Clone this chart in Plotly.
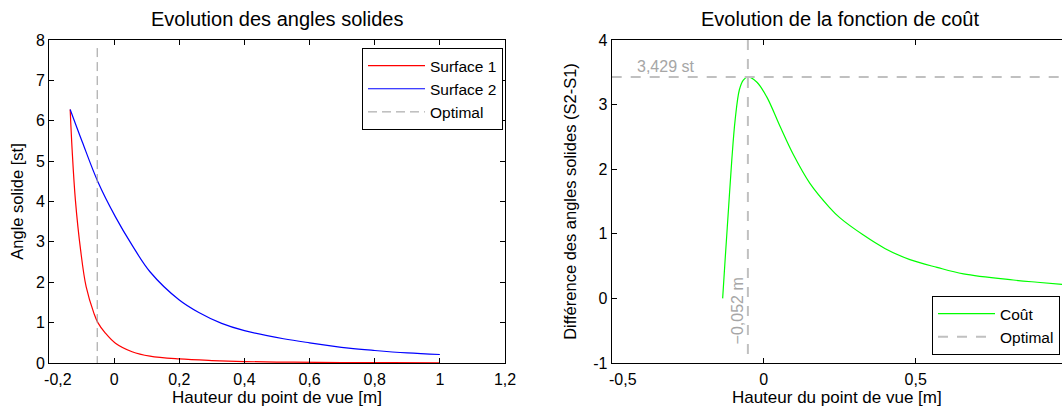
import plotly.graph_objects as go

# ---------------- data ----------------
s1_x = [-0.135, -0.129, -0.119, -0.103, -0.086, -0.062, -0.050, -0.027, 0.004,
        0.055, 0.110, 0.20, 0.30, 0.40, 0.55, 0.70, 0.85, 1.00]
s1_y = [6.28, 5.28, 4.04, 2.80, 1.89, 1.23, 1.00, 0.74, 0.49,
        0.28, 0.17, 0.10, 0.06, 0.035, 0.02, 0.012, 0.008, 0.005]

s2_x = [-0.135, -0.098, -0.050, 0.004, 0.055, 0.110, 0.20, 0.26, 0.33,
        0.40, 0.52, 0.60, 0.72, 0.80, 0.90, 1.00]
s2_y = [6.28, 5.48, 4.49, 3.62, 2.92, 2.26, 1.56, 1.25, 0.98,
        0.80, 0.60, 0.50, 0.37, 0.31, 0.25, 0.21]

cost_x = [-0.135, -0.127, -0.116, -0.105, -0.094, -0.080, -0.067, -0.052, -0.023,
          0.010, 0.054, 0.097, 0.152, 0.216, 0.25, 0.328, 0.40, 0.481, 0.57,
          0.657, 0.821, 0.90, 1.000]
cost_y = [0.00, 0.59, 1.37, 2.14, 2.76, 3.23, 3.38, 3.429, 3.35,
          3.12, 2.66, 2.23, 1.78, 1.41, 1.25, 0.98, 0.77, 0.60, 0.48,
          0.38, 0.285, 0.25, 0.21]

opt_x = -0.052
opt_y = 3.429
opt_left_top = 7.8

NB = "\u00a0"
left_xticks = [-0.2, 0, 0.2, 0.4, 0.6, 0.8, 1.0, 1.2]
left_xticklabels = [NB * 4 + "-0,2", "0", "0,2", "0,4", "0,6", "0,8", "1", "1,2"]
left_yticks = [0, 1, 2, 3, 4, 5, 6, 7, 8]
right_xticks = [-0.5, 0, 0.5, 1.0]
right_xticklabels = [NB * 5 + "-0,5", "0", "0,5", "1"]
right_yticks = [-1, 0, 1, 2, 3, 4]
right_yticklabels = ["-1", "0", "1", "2", "3", "4"]

# ---------------- layout geometry ----------------
W, H = 1062, 408
FONT = "Liberation Sans, Arial, sans-serif"
L_X0, L_X1 = 49, 505
R_X0 = 611.7
Y_TOP, Y_BOT = 40, 363
R_PX_PER_UNIT = 304.0

fig = go.Figure()

fig.add_trace(go.Scatter(x=s1_x, y=s1_y, mode="lines", name="Surface 1",
                         line=dict(color="#ff0000", width=1.2, shape="spline", smoothing=1.0),
                         xaxis="x", yaxis="y", legend="legend"))
fig.add_trace(go.Scatter(x=s2_x, y=s2_y, mode="lines", name="Surface 2",
                         line=dict(color="#0000ff", width=1.2, shape="spline", smoothing=1.0),
                         xaxis="x", yaxis="y", legend="legend"))
fig.add_trace(go.Scatter(x=[opt_x, opt_x], y=[opt_left_top, 0], mode="lines", name="Optimal",
                         line=dict(color="#9a9a9a", width=1, dash="9px,5px"),
                         xaxis="x", yaxis="y", legend="legend"))

r_xmax = -0.5 + (W - R_X0) / R_PX_PER_UNIT
fig.add_trace(go.Scatter(x=cost_x, y=cost_y, mode="lines", name="Coût",
                         line=dict(color="#00ff00", width=1.2, shape="spline", smoothing=1.0),
                         xaxis="x2", yaxis="y2", legend="legend2"))
fig.add_trace(go.Scatter(x=[-0.5, r_xmax + 0.2, None, opt_x, opt_x],
                         y=[opt_y, opt_y, None, 4, -1], mode="lines", name="Optimal",
                         line=dict(color="#c0c0c0", width=2, dash="10px,9px"),
                         xaxis="x2", yaxis="y2", legend="legend2"))

axis_common = dict(showline=True, linecolor="black", linewidth=1, ticks="inside",
                   ticklen=5, tickcolor="black", showgrid=False, zeroline=False,
                   automargin=False,
                   tickfont=dict(family=FONT, size=16, color="black"))

legend_common = dict(bgcolor="white", bordercolor="black", borderwidth=1,
                     font=dict(family=FONT, size=15.5, color="black"), itemwidth=57,
                     tracegroupgap=0)

fig.update_layout(
    template="none",
    width=W, height=H,
    margin=dict(l=0, r=0, t=0, b=0, pad=0),
    paper_bgcolor="white", plot_bgcolor="white",
    font=dict(family=FONT, color="black"),
    xaxis=dict(domain=[L_X0 / W, L_X1 / W], range=[-0.2, 1.2], anchor="y",
               tickvals=left_xticks, ticktext=left_xticklabels, mirror="ticks",
               ticklabelstandoff=2,
               title=dict(text="Hauteur du point de vue [m]", standoff=1,
                          font=dict(family=FONT, size=17, color="black")),
               **axis_common),
    yaxis=dict(domain=[1 - Y_BOT / H, 1 - Y_TOP / H], range=[0, 8], anchor="x",
               tickvals=left_yticks, mirror="ticks",
               title=dict(text="Angle solide [st]", standoff=8,
                          font=dict(family=FONT, size=16.5, color="black")),
               **axis_common),
    xaxis2=dict(domain=[R_X0 / W, 1.0], range=[-0.5, r_xmax], anchor="y2",
                tickvals=right_xticks, ticktext=right_xticklabels, mirror="ticks",
                ticklabelstandoff=2,
                title=dict(text="Hauteur du point de vue [m]", standoff=1,
                           font=dict(family=FONT, size=17, color="black")),
                **axis_common),
    yaxis2=dict(domain=[1 - Y_BOT / H, 1 - Y_TOP / H], range=[-1, 4], anchor="x2",
                tickvals=right_yticks, ticktext=right_yticklabels, mirror=False,
                title=dict(text="Différence des angles solides (S2-S1)", standoff=12,
                           font=dict(family=FONT, size=16.5, color="black")),
                **axis_common),
    legend=dict(x=503 / W, xanchor="right", y=1 - 48 / H, yanchor="top", **legend_common),
    legend2=dict(x=1060 / W, xanchor="right", y=1 - 355 / H, yanchor="bottom", **legend_common),
    showlegend=True,
)

# subplot titles
fig.add_annotation(text="Evolution des angles solides", xref="paper", yref="paper",
                   x=((L_X0 + L_X1) / 2) / W, y=1 - 19 / H, xanchor="center", yanchor="middle",
                   showarrow=False, font=dict(family=FONT, size=20, color="black"))
fig.add_annotation(text="Evolution de la fonction de coût", xref="paper", yref="paper",
                   x=(R_X0 + 456 / 2) / W, y=1 - 19 / H, xanchor="center", yanchor="middle",
                   showarrow=False, font=dict(family=FONT, size=20, color="black"))

# optimum annotations
fig.add_annotation(text="3,429 st", xref="x2", yref="y2", x=-0.4234, y=opt_y,
                   xanchor="left", yanchor="bottom", showarrow=False,
                   font=dict(family=FONT, size=16, color="#a6a6a6"))
fig.add_annotation(text="\u22120,052 m", xref="x2", yref="y2", x=opt_x, y=-0.195,
                   xanchor="right", yanchor="middle", textangle=-90, showarrow=False,
                   font=dict(family=FONT, size=16, color="#a6a6a6"))

fig.write_html("out.html", config={"displayModeBar": False},
               post_script="document.body.style.margin='0px';")
